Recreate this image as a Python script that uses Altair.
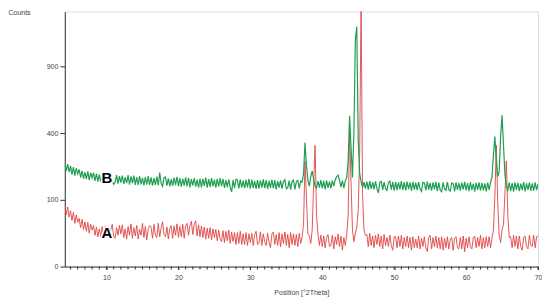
import altair as alt
import pandas as pd

# 2-theta sampling grid: rows of 5 points per degree (k+0.2 ... k+1.0), k = 4..69
row_starts = list(range(4, 70))
row_offsets = [0.2, 0.4, 0.6, 0.8, 1.0]

# Series A (red) counts, one row per degree
A_counts = [
    85, 60, 80, 55, 70,
    48, 66, 42, 60, 44,
    52, 34, 50, 31, 45,
    28, 44, 25, 40, 30,
    38, 22, 35, 20, 32,
    20, 36, 19, 37, 24,
    36, 19, 31, 40, 20,
    18, 34, 22, 38, 24,
    39, 19, 32, 17, 36,
    22, 41, 18, 34, 21,
    38, 17, 31, 22, 42,
    19, 36, 16, 32, 38,
    35, 18, 40, 22, 19,
    42, 20, 34, 45, 23,
    20, 35, 17, 33, 38,
    18, 37, 22, 41, 19,
    36, 20, 40, 18, 37,
    42, 22, 38, 46, 23,
    40, 47, 21, 39, 20,
    37, 19, 35, 17, 33,
    18, 34, 16, 32, 19,
    31, 15, 30, 17, 14,
    29, 13, 28, 15, 30,
    12, 27, 14, 26, 11,
    26, 12, 28, 11, 24,
    11, 26, 10, 24, 13,
    25, 10, 23, 28, 11,
    12, 27, 10, 24, 14,
    10, 25, 13, 8, 24,
    27, 11, 23, 10, 26,
    9, 24, 12, 27, 10,
    23, 8, 26, 11, 24,
    10, 23, 9, 25, 12,
    20, 40, 250, 110, 24,
    22, 12, 30, 150, 330,
    60, 24, 10, 22, 9,
    21, 8, 19, 23, 9,
    10, 22, 7, 20, 11,
    24, 9, 21, 6, 19,
    10, 22, 60, 400, 160,
    30, 14, 25, 35, 70,
    280, 1600, 120, 30, 22,
    23, 9, 25, 10, 21,
    8, 22, 11, 24, 9,
    21, 7, 23, 10, 19,
    9, 22, 10, 6, 20,
    20, 8, 21, 9, 22,
    7, 19, 9, 21, 8,
    19, 6, 20, 8, 17,
    8, 21, 7, 18, 9,
    20, 8, 5, 19, 22,
    7, 19, 9, 21, 8,
    19, 7, 20, 6, 18,
    8, 20, 7, 17, 19,
    6, 18, 20, 8, 7,
    19, 7, 21, 5, 18,
    8, 20, 9, 7, 19,
    21, 8, 19, 9, 22,
    7, 19, 8, 20, 9,
    20, 8, 18, 30, 110,
    330, 90, 22, 13, 30,
    40, 120, 250, 60, 19,
    20, 8, 22, 9, 21,
    7, 21, 9, 6, 19,
    21, 9, 7, 22, 10,
    9, 22, 8, 20, 21,
]

# Series B (green) counts, one row per degree
B_counts = [
    240, 205, 236, 200, 228,
    190, 222, 186, 218, 192,
    212, 178, 206, 174, 200,
    172, 204, 168, 198, 176,
    198, 165, 194, 162, 190,
    162, 194, 168, 158, 190,
    190, 158, 186, 163, 152,
    160, 188, 154, 184, 158,
    186, 153, 180, 156, 188,
    151, 183, 156, 186, 150,
    180, 150, 184, 152, 177,
    148, 180, 151, 184, 150,
    179, 147, 176, 150, 182,
    148, 198, 156, 145, 178,
    180, 147, 175, 144, 172,
    146, 178, 149, 181, 145,
    176, 143, 173, 147, 179,
    144, 177, 141, 172, 148,
    176, 143, 170, 140, 174,
    141, 173, 146, 178, 140,
    172, 142, 176, 144, 170,
    140, 173, 143, 176, 145,
    173, 139, 168, 142, 171,
    141, 125, 169, 138, 171,
    168, 137, 171, 140, 166,
    138, 169, 141, 173, 136,
    170, 139, 165, 135, 168,
    136, 167, 140, 171, 138,
    168, 135, 165, 139, 170,
    137, 168, 134, 164, 140,
    167, 136, 162, 169, 136,
    139, 166, 133, 163, 168,
    134, 162, 167, 137, 164,
    160, 195, 345, 230, 168,
    145, 182, 205, 172, 145,
    138, 164, 140, 168, 137,
    165, 134, 167, 139, 162,
    137, 166, 145, 168, 182,
    188, 167, 142, 166, 138,
    165, 178, 250, 510, 320,
    178, 400, 1150, 1290, 360,
    195, 162, 140, 160, 136,
    162, 133, 164, 135, 160,
    134, 163, 137, 122, 159,
    163, 132, 160, 136, 130,
    158, 164, 133, 161, 129,
    161, 131, 159, 134, 164,
    132, 160, 130, 162, 135,
    159, 129, 161, 133, 158,
    131, 160, 135, 127, 159,
    157, 130, 162, 133, 156,
    129, 159, 134, 161, 128,
    158, 131, 126, 159, 135,
    130, 160, 133, 128, 157,
    155, 127, 159, 132, 157,
    129, 158, 134, 161, 130,
    156, 128, 160, 131, 154,
    126, 157, 132, 159, 129,
    157, 130, 155, 127, 158,
    132, 158, 178, 280, 380,
    250, 182, 200, 380, 515,
    330, 190, 145, 130, 158,
    128, 156, 126, 159, 132,
    157, 128, 154, 131, 160,
    127, 155, 132, 158, 129,
    155, 129, 159, 131, 153,
]

label_text = ["B", "A"]
label_x = [10.05, 10.05]
label_y = [175, 25.7]

y_ticks = [0, 100, 400, 900]
x_major = [10, 20, 30, 40, 50, 60, 70]
x_minor = list(range(5, 71))

positions = [round(k + o, 1) for k in row_starts for o in row_offsets]

df = pd.DataFrame({
    "pos": positions * 2,
    "counts": A_counts + B_counts,
    "series": ["A"] * len(A_counts) + ["B"] * len(B_counts),
})
labels_df = pd.DataFrame({"pos": label_x, "counts": label_y, "label": label_text})
minor_df = pd.DataFrame({"pos": x_minor})

FONT = "Liberation Sans"
W, H = 475, 256

x_enc = alt.X(
    "pos:Q",
    scale=alt.Scale(domain=[4.2, 70], nice=False, zero=False),
    axis=alt.Axis(
        values=x_major,
        tickSize=3,
        labelPadding=4,
        labelFontSize=7,
        labelColor="#444",
        labelFont=FONT,
        labelFlush=False,
        labelOverlap=False,
        domainColor="#333",
        tickColor="#333",
        grid=False,
        title="Position [°2Theta]",
        titleFont=FONT,
        titleFontSize=7,
        titleFontWeight="normal",
        titleColor="#444",
        titleY=26.5,
        titleBaseline="middle",
    ),
)
y_enc = alt.Y(
    "counts:Q",
    scale=alt.Scale(type="sqrt", domain=[0, 1460], nice=False),
    axis=alt.Axis(
        values=y_ticks,
        labelOverlap=False,
        tickSize=5,
        labelPadding=2,
        labelFontSize=7,
        labelColor="#444",
        labelFont=FONT,
        domainColor="#333",
        tickColor="#333",
        grid=False,
        title="Counts",
        titleFont=FONT,
        titleFontSize=7,
        titleFontWeight="normal",
        titleColor="#444",
        titleAngle=0,
        titleX=-57,
        titleY=1,
        titleAlign="left",
        titleBaseline="middle",
    ),
)

red = alt.Chart(df).transform_filter(alt.datum.series == "A").mark_line(
    color="#e04444", strokeWidth=0.9, clip=True
).encode(x=x_enc, y=y_enc)

green = alt.Chart(df).transform_filter(alt.datum.series == "B").mark_line(
    color="#1f9e52", strokeWidth=1.2, clip=True
).encode(x=x_enc, y=y_enc)

minor = alt.Chart(minor_df).mark_rule(color="#333", strokeWidth=1).encode(
    x=x_enc,
    y=alt.value(H),
    y2=alt.value(H + 3),
)

halo = alt.Chart(labels_df).mark_text(
    font=FONT, fontSize=15, fontWeight="bold", color="black",
    stroke="white", strokeWidth=3, baseline="middle", align="center"
).encode(x=x_enc, y=y_enc, text="label:N")

txt = alt.Chart(labels_df).mark_text(
    font=FONT, fontSize=15, fontWeight="bold", color="black",
    baseline="middle", align="center"
).encode(x=x_enc, y=y_enc, text="label:N")

chart = alt.layer(red, green, minor, halo, txt).properties(
    width=W,
    height=H,
    autosize=alt.AutoSizeParams(type="none"),
    padding={"left": 57, "top": 3, "right": 4, "bottom": 30},
).configure_view(stroke="#333", strokeWidth=1).configure(background="white")

chart.save("out.html", embed_options={"renderer": "svg", "actions": False})
